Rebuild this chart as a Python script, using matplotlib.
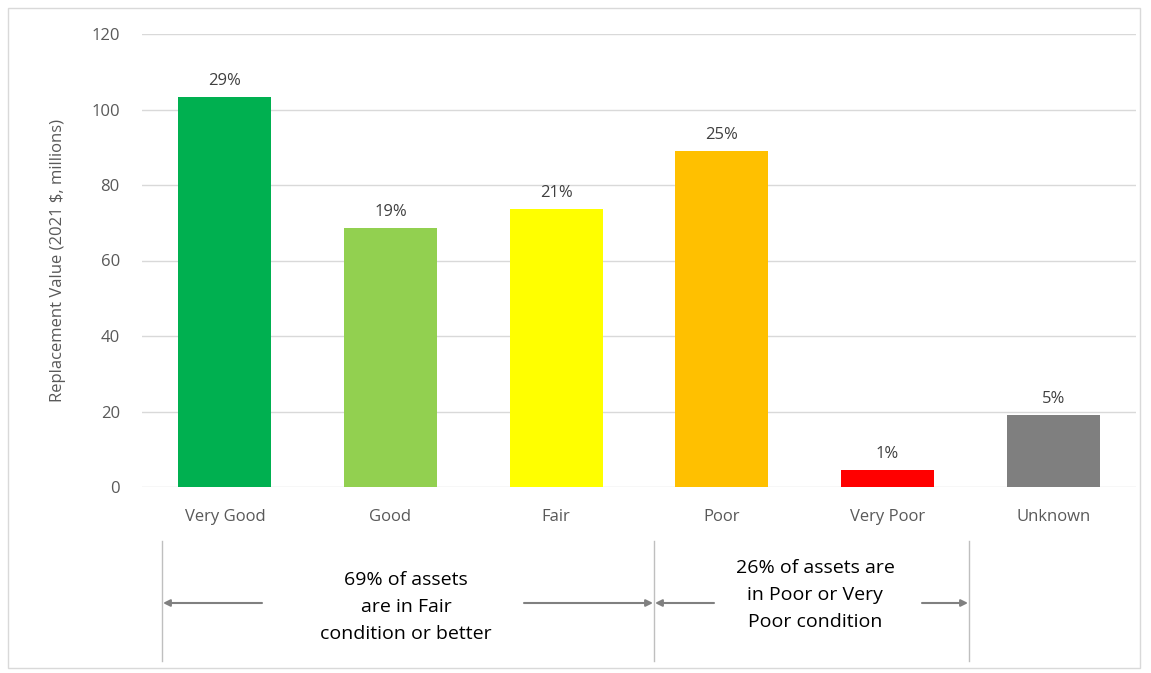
import matplotlib.pyplot as plt
from matplotlib.patches import Rectangle
from matplotlib.lines import Line2D

plt.rcParams['font.family'] = ['Open Sans', 'DejaVu Sans']

cats = ["Very Good", "Good", "Fair", "Poor", "Very Poor", "Unknown"]
vals = [103.3, 68.6, 73.6, 89.0, 4.5, 19.1]
pcts = ["29%", "19%", "21%", "25%", "1%", "5%"]
cols = ["#00b050", "#92d050", "#ffff00", "#ffc000", "#ff0000", "#7f7f7f"]

W, H = 1151, 673
fig = plt.figure(figsize=(W/100, H/100), dpi=100)
ax = fig.add_axes([142/W, 1-487/H, (1136-142)/W, (487-34)/H])

x = range(len(cats))
ax.bar(x, vals, width=0.56, color=cols, zorder=3)
for i, v in enumerate(vals):
    ax.text(i, v + 2.2, pcts[i], ha='center', va='bottom', fontsize=12, color='#404040')

ax.set_xlim(-0.5, 5.5)
ax.set_ylim(0, 120)
ax.set_yticks(range(0, 121, 20))
ax.set_xticks(list(x))
ax.set_xticklabels(cats)
ax.tick_params(length=0, labelsize=12, colors='#595959')
ax.tick_params(axis='x', pad=16)
ax.tick_params(axis='y', pad=16)
ax.grid(axis='y', color='#d9d9d9', lw=1, zorder=0)
for s in ax.spines.values():
    s.set_visible(False)
ax.set_ylabel("Replacement Value (2021 $, millions)", fontsize=12, color='#595959', labelpad=18)

# outer border
fig.add_artist(Rectangle((8/W, 1-668/H), (1140-8)/W, (668-8)/H, transform=fig.transFigure,
                         fill=False, ec='#d9d9d9', lw=1))

def fx(px):
    return px / W

def fy(py):
    return 1 - py / H

# vertical separators
for px in [162, 654, 969]:
    fig.add_artist(Line2D([fx(px), fx(px)], [fy(541), fy(661)], color='#bfbfbf', lw=1,
                          transform=fig.transFigure))

arrow = dict(arrowstyle='-|>', color='#808080', lw=1.5, mutation_scale=10, shrinkA=0, shrinkB=0)
ya = fy(603)
for x0, x1 in [(262, 163), (524, 653), (714, 655), (922, 968)]:
    fig.add_artist(plt.Annotation('', xy=(fx(x1), ya), xytext=(fx(x0), ya),
                                  xycoords='figure fraction', textcoords='figure fraction',
                                  arrowprops=arrow))

fig.text(fx(406), fy(607), "69% of assets\nare in Fair\ncondition or better", ha='center', va='center',
         fontsize=14, color='black', linespacing=1.65)
fig.text(fx(815), fy(595), "26% of assets are\nin Poor or Very\nPoor condition", ha='center', va='center',
         fontsize=14, color='black', linespacing=1.65)

fig.savefig("out.png", dpi=100)
